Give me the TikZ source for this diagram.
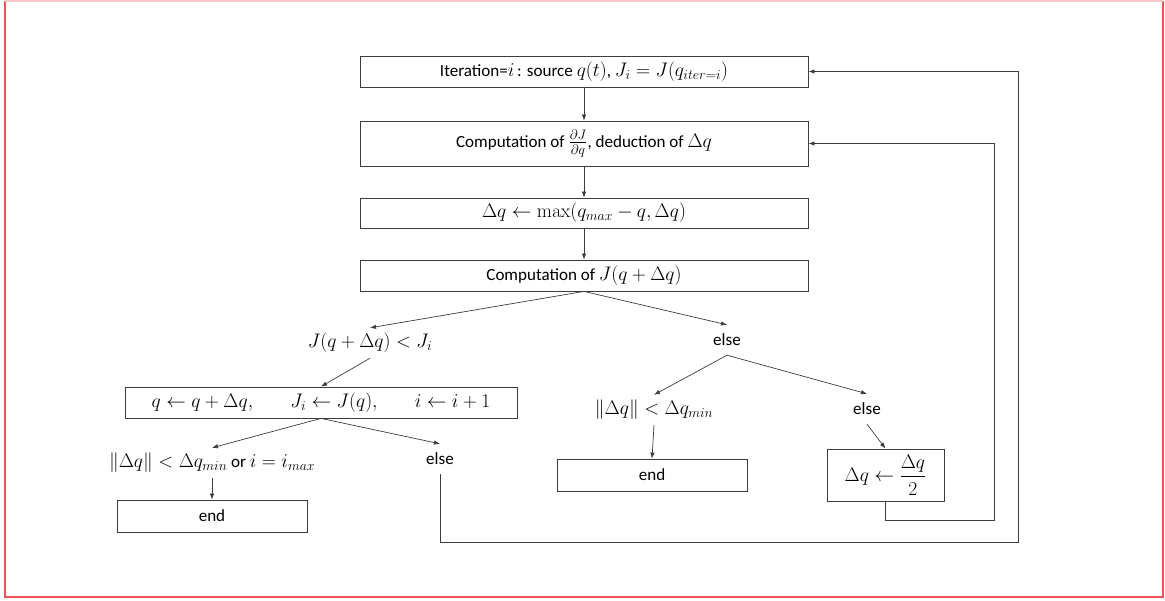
\RequirePackage{fix-cm}
\documentclass[tikz,border=0pt]{standalone}
\usepackage{amsmath}
\usepackage[no-math]{fontspec}
\setmainfont{Carlito}[Scale=0.87]
\usetikzlibrary{arrows.meta}
\definecolor{framered}{RGB}{240,80,80}
\definecolor{framepink}{RGB}{255,200,200}
\definecolor{linegray}{RGB}{60,60,60}
\tikzset{
  box/.style={draw=linegray, line width=0.8pt, fill=white, inner sep=0pt, align=center},
  lab/.style={inner sep=0pt, minimum height=30pt},
  arr/.style={-{Latex[length=6pt,width=4.5pt]}, line width=0.7pt, draw=linegray},
  loopline/.style={-{Latex[length=6pt,width=4.5pt]}, line width=0.8pt, draw=linegray},
}
\begin{document}
\begin{tikzpicture}[x=1pt,y=-1pt, font=\fontsize{19.6}{23}\selectfont]
\useasboundingbox (0,0) rectangle (1165,600);
% frame
\draw[framered, line width=2pt] (5,1) -- (5,597) -- (1163,597) -- (1163,1);
\draw[framepink, line width=2pt] (5,1) -- (1163,1);

% main boxes
\node[box, minimum width=448pt, minimum height=31pt] (b1) at (584,71.5)
  {Iteration=$i$\,: source $q(t)$, $J_i = J(q_{iter=i})$};
\node[box, minimum width=448pt, minimum height=45pt] (b2) at (584,143.5)
  {Computation of $\frac{\partial J}{\partial q}$, deduction of $\Delta q$};
\node[box, minimum width=448pt, minimum height=30pt] (b3) at (584,213)
  {$\Delta q \leftarrow \max(q_{max} - q, \Delta q)$};
\node[box, minimum width=448pt, minimum height=31pt] (b4) at (584,275.5)
  {Computation of $J(q + \Delta q)$};

% labels
\node[lab] (l1) at (370,343) {$J(q + \Delta q) < J_i$};
\node[lab] (l2) at (727,340) {else};
\node[lab] (l3) at (212,463) {$\|\Delta q\| < \Delta q_{min}$ or $i = i_{max}$};
\node[lab] (l4) at (440,459) {else};
\node[lab] (l5) at (654,410) {$\|\Delta q\| < \Delta q_{min}$};
\node[lab] (l6) at (867,409) {else};

% lower boxes
\node[box, minimum width=392pt, minimum height=31pt] (b5) at (321,402.5)
  {$q \leftarrow q + \Delta q,\qquad J_i \leftarrow J(q),\qquad i \leftarrow i + 1$};
\node[box, minimum width=190pt, minimum height=32pt] (e1) at (212,516) {end};
\node[box, minimum width=190pt, minimum height=32pt] (e2) at (652,475) {end};
\node[box, minimum width=117pt, minimum height=52pt] (bh) at (885.5,475)
  {$\Delta q \leftarrow \dfrac{\Delta q}{2}$};

% coordinates for loops
\coordinate (c1) at (1018,542);
\coordinate (c2) at (994,520);

% vertical chain
\draw[arr] (b1.south) -- (b2.north);
\draw[arr] (b2.south) -- (b3.north);
\draw[arr] (b3.south) -- (b4.north);

% branches
\draw[arr] (b4.south) -- (l1.north);
\draw[arr] (b4.south) -- (l2.north);
\draw[arr] (l1.south) -- (b5.north);
\draw[arr] (b5.south) -- (l3.north);
\draw[arr] (b5.south) -- (l4.north);
\draw[arr] (l3.south) -- (e1.north);
\draw[arr] (l2.south) -- (l5.north);
\draw[arr] (l2.south) -- (l6.north);
\draw[arr] (l5.south) -- (e2.north);
\draw[arr] (l6.south) -- (bh.north);

% loops
\draw[loopline] (l4.south) |- (c1) |- (b1.east);
\draw[loopline] (bh.south) |- (c2) |- (b2.east);
\end{tikzpicture}
\end{document}
